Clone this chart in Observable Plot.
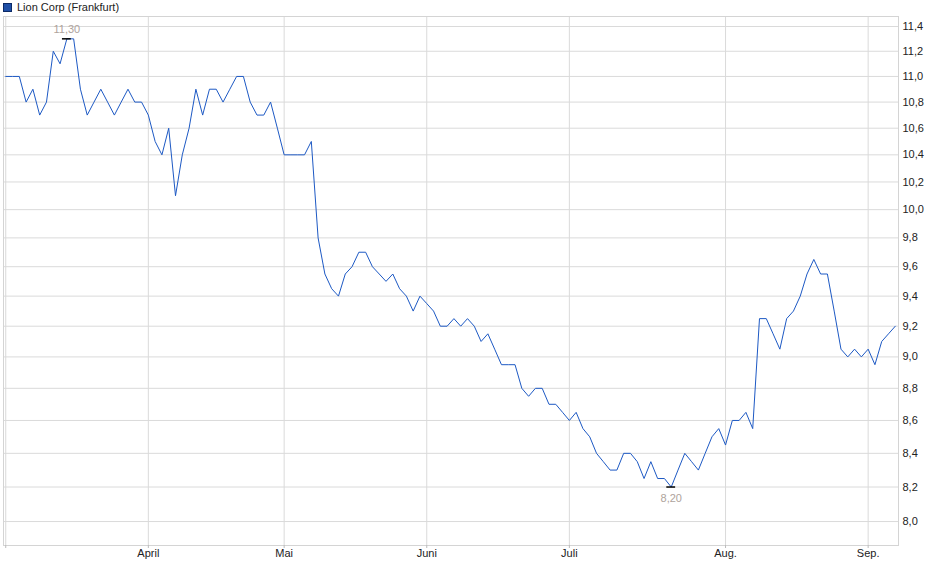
<!DOCTYPE html>
<html>
<head>
<meta charset="utf-8">
<script src="https://cdn.jsdelivr.net/npm/d3@7"></script>
<script src="https://cdn.jsdelivr.net/npm/@observablehq/plot@0.6"></script>
<style>
  html, body { margin: 0; padding: 0; background: #fff; }
  #wrap { position: relative; width: 940px; height: 579px; font-family: "Liberation Sans", Arial, sans-serif; }
  #legend { position: absolute; left: 3px; top: 0px; height: 14px; display: flex; align-items: center; font-size: 11px; color: #222; }
  #legend .sw { width: 7px; height: 7px; background: #1f4fa6; border: 1px solid #0c2a66; margin-right: 5px; }
  #chart { position: absolute; left: 0; top: 0; }
</style>
</head>
<body>
<div id="wrap">
  <div id="chart"></div>
  <div id="legend"><div class="sw"></div><span>Lion Corp (Frankfurt)</span></div>
</div>
<script>
// Closing prices (EUR), one per trading day
const prices = [
  11.0, 11.0, 11.0, 10.8, 10.9, 10.7, 10.8, 11.2, 11.1, 11.3,
  11.3, 10.9, 10.7, 10.8, 10.9, 10.8, 10.7, 10.8, 10.9, 10.8,
  10.8, 10.7, 10.5, 10.4, 10.6, 10.1, 10.4, 10.6, 10.9, 10.7,
  10.9, 10.9, 10.8, 10.9, 11.0, 11.0, 10.8, 10.7, 10.7, 10.8,
  10.6, 10.4, 10.4, 10.4, 10.4, 10.5, 9.8, 9.55, 9.45, 9.4,
  9.55, 9.6, 9.7, 9.7, 9.6, 9.55, 9.5, 9.55, 9.45, 9.4,
  9.3, 9.4, 9.35, 9.3, 9.2, 9.2, 9.25, 9.2, 9.25, 9.2,
  9.1, 9.15, 9.05, 8.95, 8.95, 8.95, 8.8, 8.75, 8.8, 8.8,
  8.7, 8.7, 8.65, 8.6, 8.65, 8.55, 8.5, 8.4, 8.35, 8.3,
  8.3, 8.4, 8.4, 8.35, 8.25, 8.35, 8.25, 8.25, 8.2, 8.3,
  8.4, 8.35, 8.3, 8.4, 8.5, 8.55, 8.45, 8.6, 8.6, 8.65,
  8.55, 9.25, 9.25, 9.15, 9.05, 9.25, 9.3, 9.4, 9.55, 9.65,
  9.55, 9.55, 9.3, 9.05, 9.0, 9.05, 9.0, 9.05, 8.95, 9.1,
  9.15, 9.2
];
// First trading day of each month (index into prices)
const monthTicks = [0, 21, 41, 62, 83, 106, 127];
const monthLabels = ["", "April", "Mai", "Juni", "Juli", "Aug.", "Sep."];
const yTicks = [8.0, 8.2, 8.4, 8.6, 8.8, 9.0, 9.2, 9.4, 9.6, 9.8, 10.0, 10.2, 10.4, 10.6, 10.8, 11.0, 11.2, 11.4];
const yDomain = [7.864, 11.482];
const xDomain = [-0.33, 131.47];

const data = prices.map((v, i) => ({i, v}));
const maxV = d3.max(prices), minV = d3.min(prices);
const maxPt = data.find(d => d.v === maxV);
const minPt = data.find(d => d.v === minV);
const fmt = v => v.toFixed(1).replace(".", ",");
const fmt2 = v => v.toFixed(2).replace(".", ",");

const chart = Plot.plot({
  width: 940,
  height: 579,
  marginLeft: 3,
  marginRight: 42,
  marginTop: 16,
  marginBottom: 34,
  style: {fontFamily: "Liberation Sans, Arial, sans-serif", fontSize: "11px", background: "#fff"},
  x: {type: "linear", domain: xDomain, label: null},
  y: {type: "log", domain: yDomain, label: null},
  marks: [
    Plot.gridY(yTicks, {stroke: "#dadada", strokeOpacity: 1}),
    Plot.gridX(monthTicks, {stroke: "#dadada", strokeOpacity: 1}),
    Plot.frame({stroke: "#d4d4d4"}),
    Plot.line(data, {x: "i", y: "v", stroke: "#1d59c4", strokeWidth: 1}),
    Plot.ruleY([maxPt], {y: "v", x1: d => d.i - 0.65, x2: d => d.i + 0.65, stroke: "#000", strokeWidth: 1.5}),
    Plot.ruleY([minPt], {y: "v", x1: d => d.i - 0.65, x2: d => d.i + 0.65, stroke: "#000", strokeWidth: 1.5}),
    Plot.text([maxPt], {x: "i", y: "v", text: d => fmt2(d.v), dy: -9, fill: "#aea39c", fontSize: 11}),
    Plot.text([minPt], {x: "i", y: "v", text: d => fmt2(d.v), dy: 11, fill: "#aea39c", fontSize: 11}),
    Plot.axisY(yTicks, {anchor: "right", label: null, tickSize: 0, tickPadding: 4, tickFormat: fmt, fill: "#222", fontSize: 11}),
    Plot.axisX(monthTicks, {anchor: "bottom", label: null, tickSize: 3, tickPadding: 1, stroke: "#bbb",
      tickFormat: d => monthLabels[monthTicks.indexOf(d)], fill: "#222", fontSize: 11})
  ]
});
document.getElementById("chart").appendChild(chart);
</script>
</body>
</html>
